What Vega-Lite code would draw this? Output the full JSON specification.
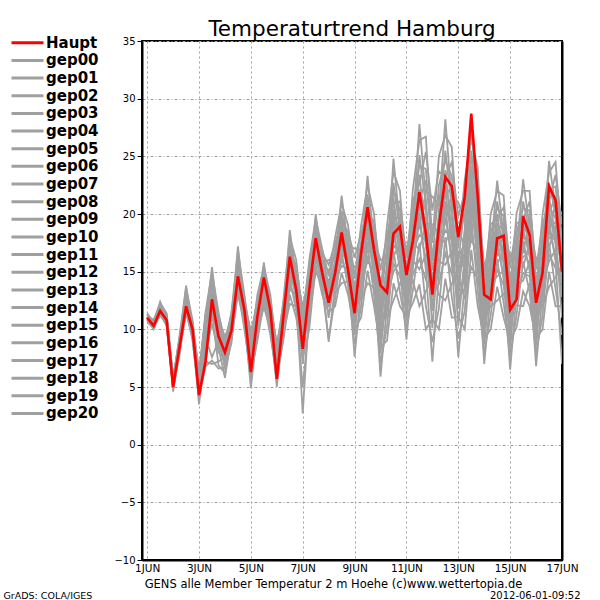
{
  "$schema": "https://vega.github.io/schema/vega-lite/v6.json",
  "autosize": {"type": "none"},
  "width": 420,
  "height": 519,
  "padding": {"left": 142, "top": 41, "right": 38, "bottom": 40},
  "background": "white",
  "config": {
    "view": {"stroke": "black", "strokeWidth": 2},
    "font": "DejaVu Sans"
  },
  "title": {
    "text": "Temperaturtrend Hamburg",
    "font": "DejaVu Sans",
    "fontSize": 21.5,
    "fontWeight": "normal",
    "color": "black",
    "anchor": "middle",
    "offset": -5
  },
  "data": {
    "values": [
      {"d":0,"Haupt":11.0,"gep00":11.0,"gep01":10.8,"gep02":11.1,"gep03":10.9,"gep04":11.3,"gep05":10.7,"gep06":11.1,"gep07":11.4,"gep08":10.9,"gep09":11.1,"gep10":10.6,"gep11":11.0,"gep12":11.2,"gep13":10.8,"gep14":11.0,"gep15":11.3,"gep16":10.8,"gep17":11.1,"gep18":11.0,"gep19":11.2,"gep20":10.9},
      {"d":0.25,"Haupt":10.3,"gep00":10.2,"gep01":10.0,"gep02":10.3,"gep03":10.2,"gep04":10.4,"gep05":10.1,"gep06":10.4,"gep07":10.6,"gep08":10.3,"gep09":10.5,"gep10":10.2,"gep11":10.4,"gep12":10.6,"gep13":10.3,"gep14":10.5,"gep15":10.7,"gep16":10.4,"gep17":10.7,"gep18":10.5,"gep19":10.8,"gep20":10.5},
      {"d":0.5,"Haupt":11.6,"gep00":11.2,"gep01":11.3,"gep02":11.4,"gep03":11.5,"gep04":11.6,"gep05":11.6,"gep06":11.7,"gep07":11.7,"gep08":11.8,"gep09":11.8,"gep10":11.8,"gep11":11.9,"gep12":11.9,"gep13":11.9,"gep14":12.0,"gep15":12.0,"gep16":12.1,"gep17":12.1,"gep18":12.2,"gep19":12.3,"gep20":12.4},
      {"d":0.75,"Haupt":10.8,"gep00":10.5,"gep01":10.3,"gep02":10.7,"gep03":10.6,"gep04":10.9,"gep05":10.4,"gep06":10.8,"gep07":11.1,"gep08":10.7,"gep09":10.9,"gep10":10.6,"gep11":10.9,"gep12":11.1,"gep13":10.8,"gep14":11.0,"gep15":11.3,"gep16":10.8,"gep17":11.2,"gep18":11.0,"gep19":11.4,"gep20":11.0},
      {"d":1,"Haupt":5.0,"gep00":5.3,"gep01":4.9,"gep02":5.5,"gep03":5.2,"gep04":5.7,"gep05":4.8,"gep06":5.4,"gep07":5.9,"gep08":5.1,"gep09":5.4,"gep10":4.6,"gep11":5.2,"gep12":5.6,"gep13":5.0,"gep14":5.3,"gep15":5.8,"gep16":4.9,"gep17":5.4,"gep18":5.2,"gep19":5.5,"gep20":5.1},
      {"d":1.25,"Haupt":8.5,"gep00":8.1,"gep01":7.8,"gep02":8.5,"gep03":8.2,"gep04":8.7,"gep05":8.0,"gep06":8.6,"gep07":9.0,"gep08":8.4,"gep09":8.8,"gep10":8.3,"gep11":8.7,"gep12":9.1,"gep13":8.5,"gep14":8.8,"gep15":9.3,"gep16":8.6,"gep17":9.2,"gep18":8.9,"gep19":9.5,"gep20":9.0},
      {"d":1.5,"Haupt":12.0,"gep00":11.4,"gep01":11.7,"gep02":11.9,"gep03":12.0,"gep04":12.1,"gep05":12.2,"gep06":12.3,"gep07":12.4,"gep08":12.5,"gep09":12.6,"gep10":12.6,"gep11":12.7,"gep12":12.8,"gep13":12.9,"gep14":12.9,"gep15":13.0,"gep16":13.1,"gep17":13.2,"gep18":13.4,"gep19":13.6,"gep20":13.8},
      {"d":1.75,"Haupt":10.0,"gep00":9.4,"gep01":9.0,"gep02":9.7,"gep03":9.5,"gep04":10.0,"gep05":9.2,"gep06":9.8,"gep07":10.3,"gep08":9.6,"gep09":10.0,"gep10":9.6,"gep11":9.9,"gep12":10.4,"gep13":9.8,"gep14":10.1,"gep15":10.6,"gep16":9.9,"gep17":10.5,"gep18":10.2,"gep19":10.8,"gep20":10.2},
      {"d":2,"Haupt":4.3,"gep00":5.1,"gep01":4.3,"gep02":5.5,"gep03":4.8,"gep04":6.0,"gep05":3.9,"gep06":5.2,"gep07":6.5,"gep08":4.6,"gep09":5.4,"gep10":3.5,"gep11":5.0,"gep12":5.8,"gep13":4.4,"gep14":5.2,"gep15":6.2,"gep16":4.1,"gep17":5.3,"gep18":4.9,"gep19":5.7,"gep20":4.7},
      {"d":2.25,"Haupt":7.2,"gep00":7.2,"gep01":6.8,"gep02":9.3,"gep03":8.0,"gep04":10.1,"gep05":7.0,"gep06":9.7,"gep07":10.8,"gep08":9.0,"gep09":10.2,"gep10":8.6,"gep11":10.0,"gep12":10.9,"gep13":9.5,"gep14":10.3,"gep15":11.3,"gep16":9.9,"gep17":11.1,"gep18":10.4,"gep19":11.5,"gep20":10.6},
      {"d":2.5,"Haupt":12.6,"gep00":7.0,"gep01":7.3,"gep02":7.6,"gep03":10.5,"gep04":11.0,"gep05":11.4,"gep06":11.7,"gep07":12.0,"gep08":12.2,"gep09":12.4,"gep10":12.6,"gep11":12.8,"gep12":13.0,"gep13":13.2,"gep14":13.4,"gep15":13.7,"gep16":14.0,"gep17":14.3,"gep18":14.7,"gep19":15.0,"gep20":15.4},
      {"d":2.75,"Haupt":9.4,"gep00":7.2,"gep01":6.6,"gep02":9.0,"gep03":8.0,"gep04":9.9,"gep05":6.9,"gep06":9.4,"gep07":10.7,"gep08":8.7,"gep09":10.0,"gep10":8.4,"gep11":9.8,"gep12":10.9,"gep13":9.2,"gep14":10.2,"gep15":11.3,"gep16":9.6,"gep17":11.1,"gep18":10.3,"gep19":11.5,"gep20":10.5},
      {"d":3,"Haupt":8.0,"gep00":7.7,"gep01":6.7,"gep02":8.3,"gep03":7.4,"gep04":8.8,"gep05":6.2,"gep06":7.9,"gep07":9.4,"gep08":7.1,"gep09":8.1,"gep10":5.8,"gep11":7.6,"gep12":8.6,"gep13":6.9,"gep14":7.8,"gep15":9.1,"gep16":6.5,"gep17":8.0,"gep18":7.5,"gep19":8.4,"gep20":7.2},
      {"d":3.25,"Haupt":9.9,"gep00":9.3,"gep01":8.8,"gep02":9.8,"gep03":9.5,"gep04":10.3,"gep05":9.1,"gep06":10.0,"gep07":10.7,"gep08":9.7,"gep09":10.4,"gep10":9.6,"gep11":10.2,"gep12":10.9,"gep13":10.0,"gep14":10.4,"gep15":11.3,"gep16":10.1,"gep17":11.0,"gep18":10.5,"gep19":11.5,"gep20":10.6},
      {"d":3.5,"Haupt":14.6,"gep00":13.0,"gep01":13.5,"gep02":13.8,"gep03":14.1,"gep04":14.3,"gep05":14.5,"gep06":14.6,"gep07":14.8,"gep08":14.9,"gep09":15.1,"gep10":15.2,"gep11":15.3,"gep12":15.4,"gep13":15.6,"gep14":15.7,"gep15":15.9,"gep16":16.0,"gep17":16.2,"gep18":16.5,"gep19":16.8,"gep20":17.2},
      {"d":3.75,"Haupt":11.7,"gep00":10.6,"gep01":10.0,"gep02":11.2,"gep03":10.8,"gep04":11.7,"gep05":10.4,"gep06":11.4,"gep07":12.2,"gep08":11.1,"gep09":11.7,"gep10":10.9,"gep11":11.6,"gep12":12.3,"gep13":11.3,"gep14":11.8,"gep15":12.7,"gep16":11.5,"gep17":12.5,"gep18":11.9,"gep19":13.0,"gep20":12.0},
      {"d":4,"Haupt":6.3,"gep00":7.5,"gep01":6.2,"gep02":8.3,"gep03":7.1,"gep04":9.1,"gep05":5.5,"gep06":7.8,"gep07":9.9,"gep08":6.7,"gep09":8.1,"gep10":4.9,"gep11":7.4,"gep12":8.8,"gep13":6.5,"gep14":7.7,"gep15":9.5,"gep16":5.9,"gep17":8.0,"gep18":7.2,"gep19":8.5,"gep20":6.9},
      {"d":4.25,"Haupt":11.1,"gep00":9.8,"gep01":9.0,"gep02":10.6,"gep03":10.0,"gep04":11.2,"gep05":9.5,"gep06":10.8,"gep07":11.9,"gep08":10.4,"gep09":11.3,"gep10":10.2,"gep11":11.1,"gep12":12.1,"gep13":10.7,"gep14":11.4,"gep15":12.6,"gep16":11.0,"gep17":12.3,"gep18":11.6,"gep19":13.0,"gep20":11.7},
      {"d":4.5,"Haupt":14.5,"gep00":11.9,"gep01":12.4,"gep02":12.7,"gep03":12.9,"gep04":13.1,"gep05":13.3,"gep06":13.4,"gep07":13.6,"gep08":13.7,"gep09":13.8,"gep10":13.9,"gep11":14.0,"gep12":14.2,"gep13":14.3,"gep14":14.4,"gep15":14.6,"gep16":14.7,"gep17":14.9,"gep18":15.1,"gep19":15.4,"gep20":15.8},
      {"d":4.75,"Haupt":11.7,"gep00":10.2,"gep01":9.5,"gep02":10.9,"gep03":10.4,"gep04":11.4,"gep05":9.9,"gep06":11.1,"gep07":12.0,"gep08":10.7,"gep09":11.5,"gep10":10.6,"gep11":11.3,"gep12":12.2,"gep13":11.0,"gep14":11.6,"gep15":12.7,"gep16":11.2,"gep17":12.4,"gep18":11.7,"gep19":13.0,"gep20":11.9},
      {"d":5,"Haupt":5.7,"gep00":7.0,"gep01":6.0,"gep02":7.6,"gep03":6.6,"gep04":8.2,"gep05":5.5,"gep06":7.2,"gep07":8.8,"gep08":6.3,"gep09":7.4,"gep10":5.0,"gep11":6.9,"gep12":7.9,"gep13":6.2,"gep14":7.1,"gep15":8.5,"gep16":5.8,"gep17":7.3,"gep18":6.7,"gep19":7.7,"gep20":6.5},
      {"d":5.25,"Haupt":11.0,"gep00":9.7,"gep01":9.0,"gep02":10.4,"gep03":9.9,"gep04":10.9,"gep05":9.4,"gep06":10.6,"gep07":11.5,"gep08":10.2,"gep09":11.0,"gep10":10.1,"gep11":10.8,"gep12":11.7,"gep13":10.5,"gep14":11.1,"gep15":12.2,"gep16":10.7,"gep17":11.9,"gep18":11.2,"gep19":12.5,"gep20":11.4},
      {"d":5.5,"Haupt":16.3,"gep00":12.2,"gep01":13.0,"gep02":13.5,"gep03":13.9,"gep04":14.2,"gep05":14.4,"gep06":14.7,"gep07":14.9,"gep08":15.1,"gep09":15.3,"gep10":15.5,"gep11":15.7,"gep12":15.9,"gep13":16.1,"gep14":16.3,"gep15":16.6,"gep16":16.8,"gep17":17.1,"gep18":17.5,"gep19":18.0,"gep20":18.6},
      {"d":5.75,"Haupt":13.4,"gep00":12.0,"gep01":11.0,"gep02":13.0,"gep03":12.3,"gep04":13.8,"gep05":11.6,"gep06":13.3,"gep07":14.6,"gep08":12.8,"gep09":13.9,"gep10":12.6,"gep11":13.6,"gep12":14.9,"gep13":13.2,"gep14":14.1,"gep15":15.6,"gep16":13.5,"gep17":15.2,"gep18":14.2,"gep19":16.0,"gep20":14.4},
      {"d":6,"Haupt":8.3,"gep00":9.3,"gep01":7.5,"gep02":10.3,"gep03":8.7,"gep04":11.1,"gep05":5.0,"gep06":9.7,"gep07":12.0,"gep08":8.2,"gep09":10.1,"gep10":2.7,"gep11":9.1,"gep12":10.8,"gep13":7.9,"gep14":9.5,"gep15":11.5,"gep16":7.0,"gep17":9.9,"gep18":8.9,"gep19":10.5,"gep20":8.5},
      {"d":6.25,"Haupt":13.4,"gep00":11.2,"gep01":10.0,"gep02":12.3,"gep03":11.6,"gep04":13.3,"gep05":10.7,"gep06":12.8,"gep07":14.3,"gep08":12.1,"gep09":13.5,"gep10":11.9,"gep11":13.1,"gep12":14.6,"gep13":12.6,"gep14":13.7,"gep15":15.5,"gep16":12.9,"gep17":15.0,"gep18":13.8,"gep19":16.0,"gep20":14.1},
      {"d":6.5,"Haupt":17.9,"gep00":15.0,"gep01":15.6,"gep02":16.0,"gep03":16.3,"gep04":16.6,"gep05":16.8,"gep06":17.0,"gep07":17.2,"gep08":17.3,"gep09":17.5,"gep10":17.6,"gep11":17.8,"gep12":17.9,"gep13":18.1,"gep14":18.2,"gep15":18.4,"gep16":18.6,"gep17":18.9,"gep18":19.2,"gep19":19.6,"gep20":20.0},
      {"d":6.75,"Haupt":14.9,"gep00":13.8,"gep01":13.0,"gep02":14.6,"gep03":14.0,"gep04":15.2,"gep05":13.5,"gep06":14.8,"gep07":15.9,"gep08":14.4,"gep09":15.3,"gep10":14.2,"gep11":15.1,"gep12":16.1,"gep13":14.7,"gep14":15.4,"gep15":16.6,"gep16":15.0,"gep17":16.3,"gep18":15.6,"gep19":17.0,"gep20":15.7},
      {"d":7,"Haupt":12.3,"gep00":13.3,"gep01":11.5,"gep02":14.3,"gep03":12.7,"gep04":15.2,"gep05":9.2,"gep06":13.7,"gep07":16.0,"gep08":12.2,"gep09":14.1,"gep10":8.9,"gep11":13.1,"gep12":14.9,"gep13":11.9,"gep14":13.5,"gep15":15.6,"gep16":11.0,"gep17":13.9,"gep18":12.9,"gep19":14.6,"gep20":12.5},
      {"d":7.25,"Haupt":14.9,"gep00":13.2,"gep01":12.0,"gep02":14.3,"gep03":13.6,"gep04":15.3,"gep05":12.7,"gep06":14.8,"gep07":16.3,"gep08":14.1,"gep09":15.5,"gep10":13.9,"gep11":15.1,"gep12":16.6,"gep13":14.6,"gep14":15.7,"gep15":17.5,"gep16":14.9,"gep17":17.0,"gep18":15.8,"gep19":18.0,"gep20":16.1},
      {"d":7.5,"Haupt":18.4,"gep00":14.0,"gep01":14.9,"gep02":15.5,"gep03":16.0,"gep04":16.4,"gep05":16.7,"gep06":17.0,"gep07":17.3,"gep08":17.5,"gep09":17.7,"gep10":18.0,"gep11":18.2,"gep12":18.4,"gep13":18.6,"gep14":18.9,"gep15":19.2,"gep16":19.5,"gep17":19.9,"gep18":20.3,"gep19":20.9,"gep20":21.6},
      {"d":7.75,"Haupt":15.1,"gep00":14.2,"gep01":13.0,"gep02":15.3,"gep03":14.6,"gep04":16.3,"gep05":13.7,"gep06":15.8,"gep07":17.3,"gep08":15.1,"gep09":16.5,"gep10":14.9,"gep11":16.1,"gep12":17.6,"gep13":15.6,"gep14":16.7,"gep15":18.5,"gep16":15.9,"gep17":18.0,"gep18":16.8,"gep19":19.0,"gep20":17.1},
      {"d":8,"Haupt":11.4,"gep00":12.5,"gep01":10.0,"gep02":14.0,"gep03":11.6,"gep04":15.4,"gep05":8.7,"gep06":13.1,"gep07":17.0,"gep08":10.9,"gep09":13.6,"gep10":7.6,"gep11":12.2,"gep12":14.8,"gep13":10.5,"gep14":12.8,"gep15":16.2,"gep16":9.5,"gep17":13.3,"gep18":11.9,"gep19":14.4,"gep20":11.3},
      {"d":8.25,"Haupt":16.6,"gep00":12.6,"gep01":11.0,"gep02":14.1,"gep03":13.1,"gep04":15.4,"gep05":12.0,"gep06":14.7,"gep07":16.8,"gep08":13.8,"gep09":15.6,"gep10":13.5,"gep11":15.2,"gep12":17.2,"gep13":14.4,"gep14":15.9,"gep15":18.3,"gep16":14.9,"gep17":17.6,"gep18":16.1,"gep19":19.0,"gep20":16.4},
      {"d":8.5,"Haupt":20.6,"gep00":14.0,"gep01":15.1,"gep02":15.9,"gep03":16.4,"gep04":16.9,"gep05":17.3,"gep06":17.6,"gep07":18.0,"gep08":18.3,"gep09":18.6,"gep10":18.8,"gep11":19.1,"gep12":19.4,"gep13":19.7,"gep14":20.0,"gep15":20.3,"gep16":20.7,"gep17":21.2,"gep18":21.7,"gep19":22.5,"gep20":23.3},
      {"d":8.75,"Haupt":16.9,"gep00":13.6,"gep01":12.0,"gep02":15.1,"gep03":14.1,"gep04":16.4,"gep05":13.0,"gep06":15.7,"gep07":17.8,"gep08":14.8,"gep09":16.6,"gep10":14.5,"gep11":16.2,"gep12":18.2,"gep13":15.4,"gep14":16.9,"gep15":19.3,"gep16":15.9,"gep17":18.6,"gep18":17.1,"gep19":20.0,"gep20":17.4},
      {"d":9,"Haupt":13.8,"gep00":11.2,"gep01":8.5,"gep02":12.8,"gep03":10.2,"gep04":14.3,"gep05":7.1,"gep06":11.8,"gep07":16.0,"gep08":9.4,"gep09":12.4,"gep10":5.9,"gep11":10.8,"gep12":13.7,"gep13":9.0,"gep14":11.5,"gep15":15.1,"gep16":7.9,"gep17":12.1,"gep18":10.5,"gep19":13.2,"gep20":9.8},
      {"d":9.25,"Haupt":13.2,"gep00":11.0,"gep01":9.0,"gep02":12.9,"gep03":11.6,"gep04":14.5,"gep05":10.2,"gep06":13.6,"gep07":16.2,"gep08":12.5,"gep09":14.8,"gep10":12.1,"gep11":14.2,"gep12":16.7,"gep13":13.3,"gep14":15.1,"gep15":18.1,"gep16":13.9,"gep17":17.3,"gep18":15.4,"gep19":19.0,"gep20":15.8},
      {"d":9.5,"Haupt":18.3,"gep00":12.5,"gep01":14.0,"gep02":15.0,"gep03":15.7,"gep04":16.3,"gep05":16.8,"gep06":17.3,"gep07":17.8,"gep08":18.2,"gep09":18.5,"gep10":18.9,"gep11":19.3,"gep12":19.6,"gep13":20.0,"gep14":20.4,"gep15":20.9,"gep16":21.4,"gep17":22.0,"gep18":22.7,"gep19":23.7,"gep20":24.8},
      {"d":9.75,"Haupt":18.9,"gep00":14.0,"gep01":12.0,"gep02":15.9,"gep03":14.6,"gep04":17.5,"gep05":13.2,"gep06":16.6,"gep07":19.2,"gep08":15.5,"gep09":17.8,"gep10":15.1,"gep11":17.2,"gep12":19.7,"gep13":16.3,"gep14":18.1,"gep15":21.1,"gep16":16.9,"gep17":20.3,"gep18":18.4,"gep19":22.0,"gep20":18.8},
      {"d":10,"Haupt":14.7,"gep00":13.2,"gep01":11.1,"gep02":14.4,"gep03":12.5,"gep04":15.6,"gep05":10.0,"gep06":13.6,"gep07":16.9,"gep08":11.8,"gep09":14.1,"gep10":9.1,"gep11":12.9,"gep12":15.1,"gep13":11.5,"gep14":13.4,"gep15":16.2,"gep16":10.7,"gep17":13.9,"gep18":12.7,"gep19":14.7,"gep20":12.1},
      {"d":10.25,"Haupt":17.7,"gep00":14.2,"gep01":12.3,"gep02":16.0,"gep03":14.8,"gep04":17.6,"gep05":13.4,"gep06":16.7,"gep07":19.3,"gep08":15.7,"gep09":17.9,"gep10":15.3,"gep11":17.3,"gep12":19.8,"gep13":16.4,"gep14":18.2,"gep15":21.2,"gep16":17.0,"gep17":20.4,"gep18":18.5,"gep19":22.2,"gep20":18.9},
      {"d":10.5,"Haupt":21.9,"gep00":12.0,"gep01":13.9,"gep02":15.2,"gep03":16.1,"gep04":16.9,"gep05":17.5,"gep06":18.2,"gep07":18.8,"gep08":19.3,"gep09":19.7,"gep10":20.2,"gep11":20.7,"gep12":21.2,"gep13":21.6,"gep14":22.1,"gep15":22.7,"gep16":23.4,"gep17":24.2,"gep18":25.1,"gep19":26.4,"gep20":27.8},
      {"d":10.75,"Haupt":18.3,"gep00":13.3,"gep01":10.0,"gep02":16.5,"gep03":14.3,"gep04":19.2,"gep05":12.0,"gep06":17.7,"gep07":22.0,"gep08":15.8,"gep09":19.7,"gep10":15.1,"gep11":18.7,"gep12":22.9,"gep13":17.2,"gep14":20.2,"gep15":25.4,"gep16":18.2,"gep17":23.9,"gep18":20.7,"gep19":26.7,"gep20":21.3},
      {"d":11,"Haupt":13.0,"gep00":14.6,"gep01":10.9,"gep02":16.9,"gep03":13.3,"gep04":19.1,"gep05":8.9,"gep06":15.5,"gep07":21.5,"gep08":12.2,"gep09":16.3,"gep10":7.2,"gep11":14.2,"gep12":18.2,"gep13":11.6,"gep14":15.1,"gep15":20.3,"gep16":10.1,"gep17":15.9,"gep18":13.8,"gep19":17.5,"gep20":12.8},
      {"d":11.25,"Haupt":18.9,"gep00":13.0,"gep01":10.0,"gep02":15.9,"gep03":13.9,"gep04":18.3,"gep05":11.8,"gep06":16.9,"gep07":20.8,"gep08":15.3,"gep09":18.7,"gep10":14.7,"gep11":17.8,"gep12":21.6,"gep13":16.5,"gep14":19.2,"gep15":23.7,"gep16":17.4,"gep17":22.5,"gep18":19.6,"gep19":25.0,"gep20":20.2},
      {"d":11.5,"Haupt":23.2,"gep00":12.5,"gep01":14.4,"gep02":15.6,"gep03":16.6,"gep04":17.4,"gep05":18.0,"gep06":18.6,"gep07":19.3,"gep08":19.7,"gep09":20.2,"gep10":20.7,"gep11":21.1,"gep12":21.6,"gep13":22.1,"gep14":22.5,"gep15":23.2,"gep16":23.8,"gep17":24.6,"gep18":25.5,"gep19":26.8,"gep20":28.2},
      {"d":11.75,"Haupt":22.4,"gep00":14.0,"gep01":11.0,"gep02":16.8,"gep03":14.8,"gep04":19.1,"gep05":12.8,"gep06":17.8,"gep07":21.7,"gep08":16.2,"gep09":19.6,"gep10":15.6,"gep11":18.7,"gep12":22.4,"gep13":17.4,"gep14":20.0,"gep15":24.5,"gep16":18.3,"gep17":23.3,"gep18":20.5,"gep19":25.8,"gep20":21.1},
      {"d":12,"Haupt":18.0,"gep00":14.6,"gep01":11.1,"gep02":16.7,"gep03":13.4,"gep04":18.7,"gep05":9.2,"gep06":15.4,"gep07":21.0,"gep08":12.3,"gep09":16.2,"gep10":7.6,"gep11":14.2,"gep12":17.9,"gep13":11.8,"gep14":15.0,"gep15":19.8,"gep16":10.3,"gep17":15.8,"gep18":13.8,"gep19":17.2,"gep20":12.8},
      {"d":12.25,"Haupt":21.5,"gep00":12.6,"gep01":10.0,"gep02":15.1,"gep03":13.4,"gep04":17.2,"gep05":11.6,"gep06":16.0,"gep07":19.4,"gep08":14.6,"gep09":17.5,"gep10":14.0,"gep11":16.8,"gep12":20.0,"gep13":15.6,"gep14":17.9,"gep15":21.8,"gep16":16.4,"gep17":20.8,"gep18":18.3,"gep19":23.0,"gep20":18.8},
      {"d":12.5,"Haupt":28.7,"gep00":15.4,"gep01":16.9,"gep02":17.8,"gep03":18.6,"gep04":19.2,"gep05":19.7,"gep06":20.2,"gep07":20.6,"gep08":21.0,"gep09":21.4,"gep10":21.7,"gep11":22.1,"gep12":22.5,"gep13":22.8,"gep14":23.2,"gep15":23.7,"gep16":24.2,"gep17":24.8,"gep18":25.5,"gep19":26.5,"gep20":27.6},
      {"d":12.75,"Haupt":21.5,"gep00":14.4,"gep01":12.0,"gep02":16.7,"gep03":15.1,"gep04":18.6,"gep05":13.4,"gep06":17.5,"gep07":20.6,"gep08":16.2,"gep09":19.0,"gep10":15.7,"gep11":18.2,"gep12":21.2,"gep13":17.2,"gep14":19.3,"gep15":22.9,"gep16":17.9,"gep17":22.0,"gep18":19.7,"gep19":24.0,"gep20":20.2},
      {"d":13,"Haupt":13.0,"gep00":11.4,"gep01":9.2,"gep02":12.7,"gep03":10.6,"gep04":14.0,"gep05":8.0,"gep06":11.9,"gep07":15.4,"gep08":9.9,"gep09":12.4,"gep10":7.0,"gep11":11.1,"gep12":13.5,"gep13":9.6,"gep14":11.6,"gep15":14.6,"gep16":8.7,"gep17":12.1,"gep18":10.9,"gep19":13.0,"gep20":10.3},
      {"d":13.25,"Haupt":12.6,"gep00":12.0,"gep01":10.0,"gep02":13.9,"gep03":12.6,"gep04":15.5,"gep05":11.2,"gep06":14.6,"gep07":17.2,"gep08":13.5,"gep09":15.8,"gep10":13.1,"gep11":15.2,"gep12":17.7,"gep13":14.3,"gep14":16.1,"gep15":19.1,"gep16":14.9,"gep17":18.3,"gep18":16.4,"gep19":20.0,"gep20":16.8},
      {"d":13.5,"Haupt":17.9,"gep00":12.5,"gep01":13.7,"gep02":14.6,"gep03":15.2,"gep04":15.7,"gep05":16.1,"gep06":16.6,"gep07":17.0,"gep08":17.3,"gep09":17.6,"gep10":17.9,"gep11":18.2,"gep12":18.5,"gep13":18.8,"gep14":19.2,"gep15":19.6,"gep16":20.0,"gep17":20.5,"gep18":21.1,"gep19":22.0,"gep20":22.9},
      {"d":13.75,"Haupt":18.1,"gep00":13.1,"gep01":11.0,"gep02":15.1,"gep03":13.8,"gep04":16.8,"gep05":12.3,"gep06":15.9,"gep07":18.6,"gep08":14.7,"gep09":17.1,"gep10":14.3,"gep11":16.5,"gep12":19.2,"gep13":15.6,"gep14":17.5,"gep15":20.6,"gep16":16.2,"gep17":19.8,"gep18":17.8,"gep19":21.6,"gep20":18.2},
      {"d":14,"Haupt":11.7,"gep00":11.6,"gep01":9.0,"gep02":13.2,"gep03":10.7,"gep04":14.6,"gep05":7.7,"gep06":12.2,"gep07":16.3,"gep08":9.9,"gep09":12.8,"gep10":6.5,"gep11":11.3,"gep12":14.0,"gep13":9.5,"gep14":11.9,"gep15":15.4,"gep16":8.5,"gep17":12.5,"gep18":11.0,"gep19":13.6,"gep20":10.3},
      {"d":14.25,"Haupt":12.6,"gep00":12.1,"gep01":10.2,"gep02":14.0,"gep03":12.7,"gep04":15.6,"gep05":11.3,"gep06":14.7,"gep07":17.3,"gep08":13.6,"gep09":15.9,"gep10":13.2,"gep11":15.3,"gep12":17.8,"gep13":14.4,"gep14":16.2,"gep15":19.2,"gep16":15.0,"gep17":18.4,"gep18":16.5,"gep19":20.1,"gep20":16.9},
      {"d":14.5,"Haupt":19.8,"gep00":12.0,"gep01":13.3,"gep02":14.2,"gep03":14.9,"gep04":15.4,"gep05":15.9,"gep06":16.3,"gep07":16.7,"gep08":17.1,"gep09":17.4,"gep10":17.7,"gep11":18.1,"gep12":18.4,"gep13":18.7,"gep14":19.0,"gep15":19.5,"gep16":19.9,"gep17":20.5,"gep18":21.1,"gep19":22.0,"gep20":23.0},
      {"d":14.75,"Haupt":18.2,"gep00":14.0,"gep01":12.0,"gep02":15.9,"gep03":14.6,"gep04":17.5,"gep05":13.2,"gep06":16.6,"gep07":19.2,"gep08":15.5,"gep09":17.8,"gep10":15.1,"gep11":17.2,"gep12":19.7,"gep13":16.3,"gep14":18.1,"gep15":21.1,"gep16":16.9,"gep17":20.3,"gep18":18.4,"gep19":22.0,"gep20":18.8},
      {"d":15,"Haupt":12.3,"gep00":11.6,"gep01":9.2,"gep02":13.1,"gep03":10.8,"gep04":14.5,"gep05":7.9,"gep06":12.2,"gep07":16.0,"gep08":10.0,"gep09":12.7,"gep10":6.8,"gep11":11.3,"gep12":13.9,"gep13":9.6,"gep14":11.9,"gep15":15.2,"gep16":8.6,"gep17":12.4,"gep18":11.1,"gep19":13.5,"gep20":10.4},
      {"d":15.25,"Haupt":14.9,"gep00":12.0,"gep01":10.0,"gep02":13.9,"gep03":12.6,"gep04":15.5,"gep05":11.2,"gep06":14.6,"gep07":17.2,"gep08":13.5,"gep09":15.8,"gep10":13.1,"gep11":15.2,"gep12":17.7,"gep13":14.3,"gep14":16.1,"gep15":19.1,"gep16":14.9,"gep17":18.3,"gep18":16.4,"gep19":20.0,"gep20":16.8},
      {"d":15.5,"Haupt":22.4,"gep00":13.7,"gep01":15.0,"gep02":15.9,"gep03":16.5,"gep04":17.1,"gep05":17.5,"gep06":18.0,"gep07":18.4,"gep08":18.7,"gep09":19.0,"gep10":19.4,"gep11":19.7,"gep12":20.0,"gep13":20.3,"gep14":20.7,"gep15":21.1,"gep16":21.5,"gep17":22.1,"gep18":22.7,"gep19":23.6,"gep20":24.6},
      {"d":15.75,"Haupt":21.2,"gep00":14.5,"gep01":12.0,"gep02":16.9,"gep03":15.3,"gep04":18.9,"gep05":13.5,"gep06":17.8,"gep07":21.0,"gep08":16.4,"gep09":19.3,"gep10":15.9,"gep11":18.5,"gep12":21.6,"gep13":17.4,"gep14":19.6,"gep15":23.4,"gep16":18.1,"gep17":22.4,"gep18":20.0,"gep19":24.5,"gep20":20.5},
      {"d":16,"Haupt":15.0,"gep00":15.6,"gep01":12.0,"gep02":17.1,"gep03":14.5,"gep04":18.4,"gep05":9.5,"gep06":16.2,"gep07":20.0,"gep08":13.4,"gep09":16.8,"gep10":7.0,"gep11":15.3,"gep12":17.9,"gep13":12.8,"gep14":15.9,"gep15":19.1,"gep16":11.0,"gep17":16.5,"gep18":14.9,"gep19":17.5,"gep20":14.0}
    ]
  },
  "transform": [
    {"fold": ["Haupt","gep00","gep01","gep02","gep03","gep04","gep05","gep06","gep07","gep08","gep09","gep10","gep11","gep12","gep13","gep14","gep15","gep16","gep17","gep18","gep19","gep20"], "as": ["member","temp"]}
  ],
  "encoding": {
    "x": {
      "field": "d",
      "type": "quantitative",
      "scale": {"domain": [-0.2, 16], "nice": false, "zero": false},
      "axis": {
        "values": [0,2,4,6,8,10,12,14,16],
        "labelExpr": "(datum.value + 1) + 'JUN'",
        "labelFont": "DejaVu Sans",
        "labelFontSize": 10.5,
        "labelColor": "black",
        "labelPadding": 3,
        "labelFlush": false,
        "ticks": false,
        "domainColor": "black",
        "domainWidth": 2,
        "grid": true,
        "gridColor": "#a0a0a0",
        "gridDash": [2, 3],
        "gridWidth": 1,
        "title": "GENS alle Member Temperatur 2 m Hoehe (c)www.wettertopia.de",
        "titleFont": "DejaVu Sans",
        "titleFontSize": 11.5,
        "titleFontWeight": "normal",
        "titleColor": "black",
        "titleX": 191,
        "titleY": 27,
        "titleBaseline": "alphabetic"
      }
    },
    "y": {"field": "temp", "type": "quantitative", "scale": {"domain": [-10, 35], "nice": false, "zero": false}},
    "color": {
      "field": "member",
      "type": "nominal",
      "scale": {
        "domain": ["Haupt","gep00","gep01","gep02","gep03","gep04","gep05","gep06","gep07","gep08","gep09","gep10","gep11","gep12","gep13","gep14","gep15","gep16","gep17","gep18","gep19","gep20"],
        "range": ["#ff0000","#a0a0a0","#a0a0a0","#a0a0a0","#a0a0a0","#a0a0a0","#a0a0a0","#a0a0a0","#a0a0a0","#a0a0a0","#a0a0a0","#a0a0a0","#a0a0a0","#a0a0a0","#a0a0a0","#a0a0a0","#a0a0a0","#a0a0a0","#a0a0a0","#a0a0a0","#a0a0a0","#a0a0a0"]
      },
      "legend": {
        "orient": "none",
        "legendX": -132,
        "legendY": -6,
        "title": null,
        "symbolType": "stroke",
        "symbolSize": 1024,
        "symbolStrokeWidth": 3,
        "labelFont": "DejaVu Sans",
        "labelFontSize": 15,
        "labelFontWeight": "bold",
        "labelColor": "black",
        "labelOffset": 1,
        "clipHeight": 15.6,
        "rowPadding": 1.65
      }
    }
  },
  "layer": [
    {
      "transform": [{"filter": "datum.member != 'Haupt'"}],
      "mark": {"type": "line", "strokeWidth": 1.8, "clip": true},
      "encoding": {
        "y": {
          "field": "temp",
          "type": "quantitative",
          "axis": {
            "values": [-10,-5,0,5,10,15,20,25,30,35],
            "labelFont": "DejaVu Sans",
            "labelFontSize": 10,
            "labelColor": "black",
            "labelPadding": 2,
            "tickSize": 5,
            "tickColor": "black",
            "tickWidth": 1,
            "domainColor": "black",
            "domainWidth": 2,
            "grid": true,
            "gridColor": "#a0a0a0",
            "gridDash": [3, 2, 1, 2],
            "gridWidth": 1,
            "title": "GrADS: COLA/IGES",
            "titleAngle": 0,
            "titleFont": "DejaVu Sans",
            "titleFontSize": 9.5,
            "titleFontWeight": "normal",
            "titleColor": "black",
            "titleX": -139,
            "titleY": 557,
            "titleAlign": "left",
            "titleBaseline": "alphabetic"
          }
        },
        "detail": {"field": "member"}
      }
    },
    {
      "transform": [{"filter": "datum.member == 'Haupt'"}],
      "mark": {"type": "line", "strokeWidth": 2.6, "clip": true},
      "encoding": {
        "y": {
          "field": "temp",
          "type": "quantitative",
          "axis": {
            "orient": "right",
            "labels": false,
            "ticks": false,
            "grid": false,
            "domainColor": "black",
            "domainWidth": 2,
            "title": "2012-06-01-09:52",
            "titleAngle": 0,
            "titleFont": "DejaVu Sans",
            "titleFontSize": 10,
            "titleFontWeight": "normal",
            "titleColor": "black",
            "titleX": 18,
            "titleY": 557,
            "titleAlign": "right",
            "titleBaseline": "alphabetic"
          }
        }
      }
    }
  ],
  "resolve": {"axis": {"y": "independent"}}
}
